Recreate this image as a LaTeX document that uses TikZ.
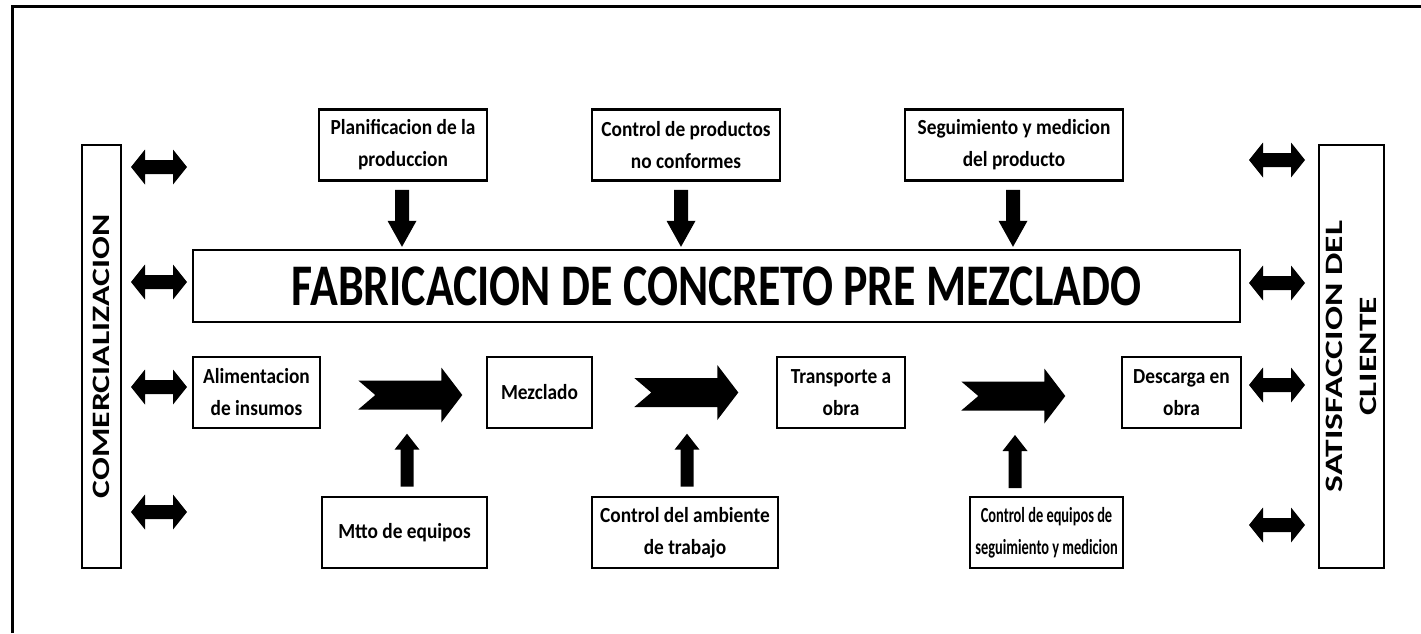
\documentclass[tikz,border=0pt]{standalone}
\usepackage{fontspec}
\setmainfont{Carlito}
\usetikzlibrary{calc}
\newcommand{\hs}[1]{\scalebox{0.9}[1]{#1}}
\newcommand{\hq}[1]{\scalebox{0.67}[1]{#1}}
\begin{document}
\begin{tikzpicture}[x=1pt,y=-1pt,
  box/.style={draw, line width=2.6pt, minimum height=71pt, inner sep=0pt, align=center,
    font=\fontsize{21.5}{32}\selectfont\bfseries},
  sidebox/.style={draw, line width=2.6pt, inner sep=0pt, rotate=90, align=center,
    font=\fontsize{25}{34}\selectfont\bfseries},
  dblarr/.pic={\fill (-28,0) -- (-14,-17.5) -- (-14,-7) -- (14,-7) -- (14,-17.5) -- (28,0)
      -- (14,17.5) -- (14,7) -- (-14,7) -- (-14,17.5) -- cycle;},
  downarr/.pic={\fill (-7,0) -- (-7,31) -- (-14.5,31) -- (0,57) -- (14.5,31) -- (7,31) -- (7,0) -- cycle;},
  uparr/.pic={\fill (-6.5,0) -- (-6.5,-37) -- (-12.5,-37) -- (0,-53) -- (12.5,-37) -- (6.5,-37) -- (6.5,0) -- cycle;},
  chev/.pic={\fill (0,-14.5) -- (83,-14.5) -- (83,-27.5) -- (104,0) -- (83,27.5) -- (83,14.5)
      -- (0,14.5) -- (17,0) -- cycle;}
]
\fill[white] (0,0) rectangle (1421,633);
\useasboundingbox (0,0) rectangle (1421,633);
\draw[line width=3pt] (12,633) -- (12,6) -- (1421,6);

% side boxes
\node[sidebox, minimum width=423pt, minimum height=39pt] (com) at (101.5,356.5)
  {\scalebox{1.35}[1]{COMERCIALIZACION}};
\node[sidebox, minimum width=423pt, minimum height=65pt] (sat) at (1351.5,356.5)
  {\scalebox{1.42}[1]{SATISFACCION DEL}\\\scalebox{1.42}[1]{CLIENTE}};

% main box
\node[box, minimum width=1047pt, minimum height=72pt, font=\fontsize{59}{60}\selectfont\bfseries]
  (main) at (716.5,286) {\scalebox{0.777}[1]{FABRICACION DE CONCRETO PRE MEZCLADO}};

% top boxes
\node[box, minimum width=168pt] (plan) at (403,145) {\hs{Planificacion de la}\\\hs{produccion}};
\node[box, minimum width=188pt] (cprod) at (686,145) {\hs{Control de productos}\\\hs{no conformes}};
\node[box, minimum width=218pt] (seg) at (1014,145) {\hs{Seguimiento y medicion}\\\hs{del producto}};

% process row
\node[box, minimum width=127pt] (alim) at (256.5,392.5) {\hs{Alimentacion}\\\hs{de insumos}};
\node[box, minimum width=105pt] (mezc) at (539.5,392.5) {\hs{Mezclado}};
\node[box, minimum width=128pt] (trans) at (841,392.5) {\hs{Transporte a}\\\hs{obra}};
\node[box, minimum width=119pt] (desc) at (1181.5,392.5) {\hs{Descarga en}\\\hs{obra}};

% bottom boxes
\node[box, minimum width=165pt] (mtto) at (404.5,532.5) {\hs{Mtto de equipos}};
\node[box, minimum width=186pt] (camb) at (685,532.5) {\hs{Control del ambiente}\\\hs{de trabajo}};
\node[box, minimum width=153pt] (ceq) at (1046.5,532.5)
  {\hq{Control de equipos de}\\\hq{seguimiento y medicion}};

% double arrows
\foreach \yy in {167,282,387,512} \pic at (159,\yy) {dblarr};
\foreach \yy in {160,283,385,525} \pic at (1277,\yy) {dblarr};

% down arrows into main box
\pic at ($(plan.south)+(-1,8)$) {downarr};
\pic at ($(cprod.south)+(-5,8)$) {downarr};
\pic at ($(seg.south)+(-1,8)$) {downarr};

% chevrons between process steps
\pic at ($(alim.east)+(37,2.5)$) {chev};
\pic at ($(mezc.east)+(41,0)$) {chev};
\pic at ($(trans.east)+(55,3.5)$) {chev};

% up arrows from bottom boxes
\pic at ($(mtto.north)+(2.5,-9)$) {uparr};
\pic at ($(camb.north)+(2,-9)$) {uparr};
\pic at (1015,488) {uparr};
\end{tikzpicture}
\end{document}
